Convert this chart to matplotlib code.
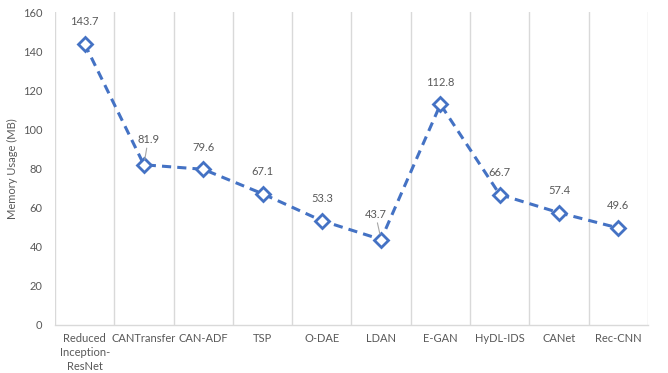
import matplotlib
matplotlib.use("Agg")
import matplotlib.pyplot as plt
import numpy as np

# memory footprint per model
models = ["Reduced\nInception-\nResNet", "CANTransfer", "CAN-ADF", "TSP", "O-DAE",
          "LDAN", "E-GAN", "HyDL-IDS", "CANet", "Rec-CNN"]
memory_mb = [143.7, 81.9, 79.6, 67.1, 53.3, 43.7, 112.8, 66.7, 57.4, 49.6]
y_ticks = [0, 20, 40, 60, 80, 100, 120, 140, 160]

# label offsets in points (dx, dy); a few labels were nudged and get a leader line
label_offsets = {1: (3, 14), 5: (-4, 14)}

plt.rcParams['font.family'] = ['Lato', 'DejaVu Sans']
text_col = "#595959"
grid_col = "#d9d9d9"

fig = plt.figure(figsize=(6.68, 3.73), dpi=100)
ax = fig.add_axes([0.0823, 0.1287, 0.8877, 0.8391])

x = np.arange(len(models))
ax.plot(x, memory_mb, color="#4472C4", lw=2.2, ls=(0, (3, 2)),
        marker="D", ms=7, mfc="white", mec="#4472C4", mew=2, zorder=3)

for i, v in enumerate(memory_mb):
    dx, dy = label_offsets.get(i, (0, 12))
    if i in label_offsets:
        ax.annotate(f"{v:.1f}", xy=(i, v), xytext=(dx, dy), textcoords="offset points",
                    ha="center", va="bottom", fontsize=8, color=text_col,
                    arrowprops=dict(arrowstyle="-", color="#a6a6a6", lw=0.8,
                                    shrinkA=0, shrinkB=4))
    else:
        ax.annotate(f"{v:.1f}", xy=(i, v), xytext=(dx, dy), textcoords="offset points",
                    ha="center", va="bottom", fontsize=8, color=text_col)

# category separators
for b in np.arange(len(models) + 1) - 0.5:
    ax.axvline(b, color=grid_col, lw=1, zorder=0)

ax.set_xlim(-0.5, len(models) - 0.5)
ax.set_ylim(0, 160)
ax.set_yticks(y_ticks)
ax.set_xticks(x)
ax.set_xticklabels(models, fontsize=8, color=text_col, linespacing=1.3)
ax.tick_params(axis="y", labelsize=8, labelcolor=text_col, length=0, pad=9)
ax.tick_params(axis="x", length=0, pad=6)

for s in ["top", "right", "left"]:
    ax.spines[s].set_visible(False)
ax.spines["bottom"].set_color(grid_col)
ax.spines["bottom"].set_linewidth(1)

ax.set_ylabel("Memory Usage (MB)", fontsize=8, color=text_col)
ax.yaxis.set_label_coords(-0.062, 0.5)

fig.savefig("out.png", dpi=100)
